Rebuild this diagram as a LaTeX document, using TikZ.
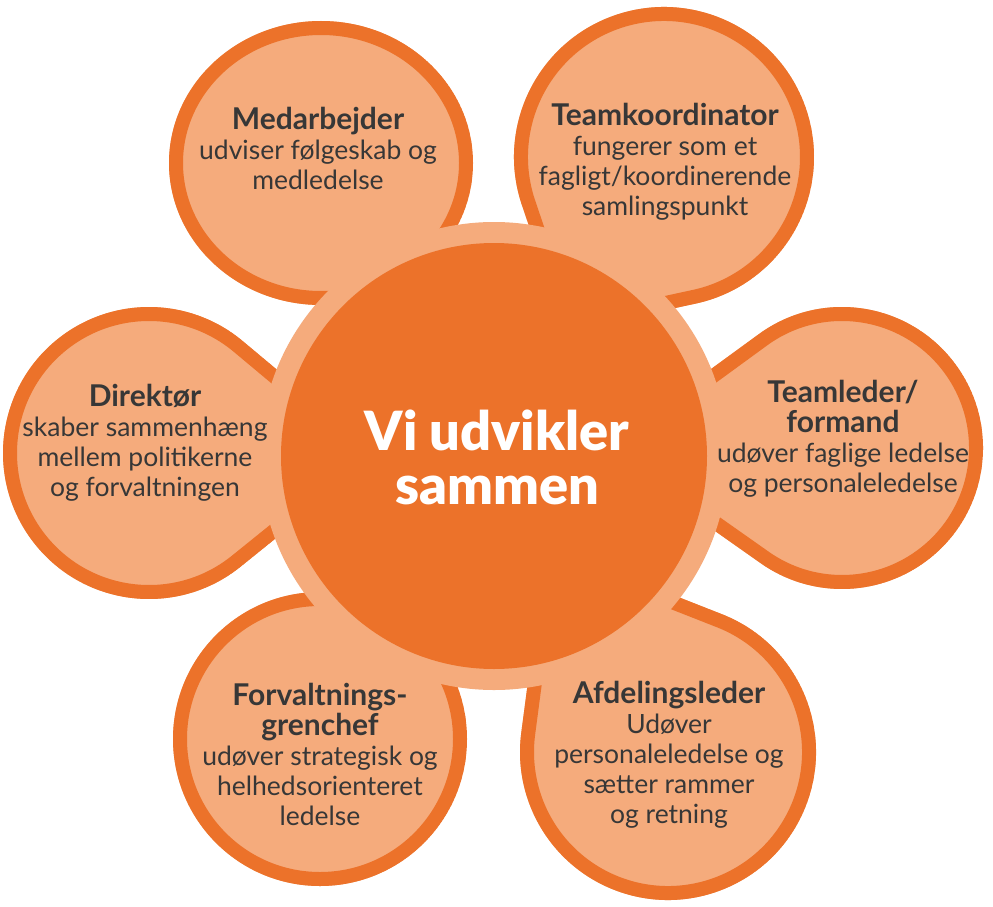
\documentclass[tikz,border=0pt]{standalone}
\usepackage{fontspec}
\setmainfont{Lato}
\IfFontExistsTF{Lato Black}{\newfontfamily\corefont{Lato Black}}{\newfontfamily\corefont{Lato}[UprightFont=*-Bold]}
\usetikzlibrary{calc}
\definecolor{darkor}{RGB}{236,114,42}
\definecolor{lightor}{RGB}{245,171,124}
\definecolor{txt}{RGB}{55,55,55}
\newcommand{\ttlfont}{\bfseries\fontsize{30}{30}\selectfont}
\newcommand{\drawpetal}[1]{%
  \begin{scope}
    \clip #1;
    \fill[lightor] #1;
    \draw[darkor, line width=28pt] #1;
  \end{scope}}
\begin{document}
\begin{tikzpicture}[x=1pt, y=-1pt,
  body/.style={align=center, text=txt, inner sep=0pt, font=\fontsize{26.5}{30}\selectfont},
  coretext/.style={align=center, text=white, inner sep=0pt, font=\corefont\fontsize{54}{54}\selectfont}]
\fill[white] (0,0) rectangle (993,907);
\useasboundingbox (0,0) rectangle (993,907);

% Medarbejder
\drawpetal{(321,163) ellipse[x radius=152, y radius=142]}
% Teamkoordinator
\drawpetal{(565,332) -- ($(664,157)+(160.7:150)$) arc[start angle=160.7, end angle=438.7, radius=150] -- cycle}
% Teamleder
\drawpetal{(600,450) -- ($(842,448)+(233.9:141)$) arc[start angle=233.9, end angle=485.1, radius=141] -- cycle}
% Afdelingsleder
\drawpetal{(546,545) -- ($(668,752)+(291.4:148)$) arc[start angle=291.4, end angle=547.6, radius=148] -- cycle}
% Forvaltningsgrenchef
\drawpetal{(320,739) circle[radius=147]}
% Direktoer
\drawpetal{(379,455) -- ($(149,453)+(51.1:146)$) arc[start angle=51.1, end angle=309.9, radius=146] -- cycle}

% centre
\node[circle, fill=lightor, minimum size=468pt, inner sep=0pt, outer sep=0pt] (ring) at (494,456) {};
\node[circle, fill=darkor, minimum size=426pt, inner sep=0pt, outer sep=0pt] (core) at (494,456) {};
\node[coretext] (centre) at (497,457) {Vi udvikler\\sammen};

% texts
\node[body] (medarbejder) at (318,148) {{\ttlfont Medarbejder}\\udviser følgeskab og\\medledelse};
\node[body] (teamkoordinator) at (665,162) {{\ttlfont Teamkoordinator}\\fungerer som et\\fagligt/koordinerende\\samlingspunkt};
\node[body] (teamleder) at (843,439) {{\ttlfont Teamleder/}\\{\ttlfont formand}\\udøver faglige ledelse\\og personaleledelse};
\node[body] (direktoer) at (145,443) {{\ttlfont Direktør}\\skaber sammenhæng\\mellem politikerne\\og forvaltningen};
\node[body] (forvaltning) at (320,754) {{\ttlfont Forvaltnings-}\\{\ttlfont grenchef}\\udøver strategisk og\\helhedsorienteret\\ledelse};
\node[body] (afdelingsleder) at (669,755) {{\ttlfont Afdelingsleder}\\Udøver\\personaleledelse og\\sætter rammer\\og retning};
\end{tikzpicture}
\end{document}
